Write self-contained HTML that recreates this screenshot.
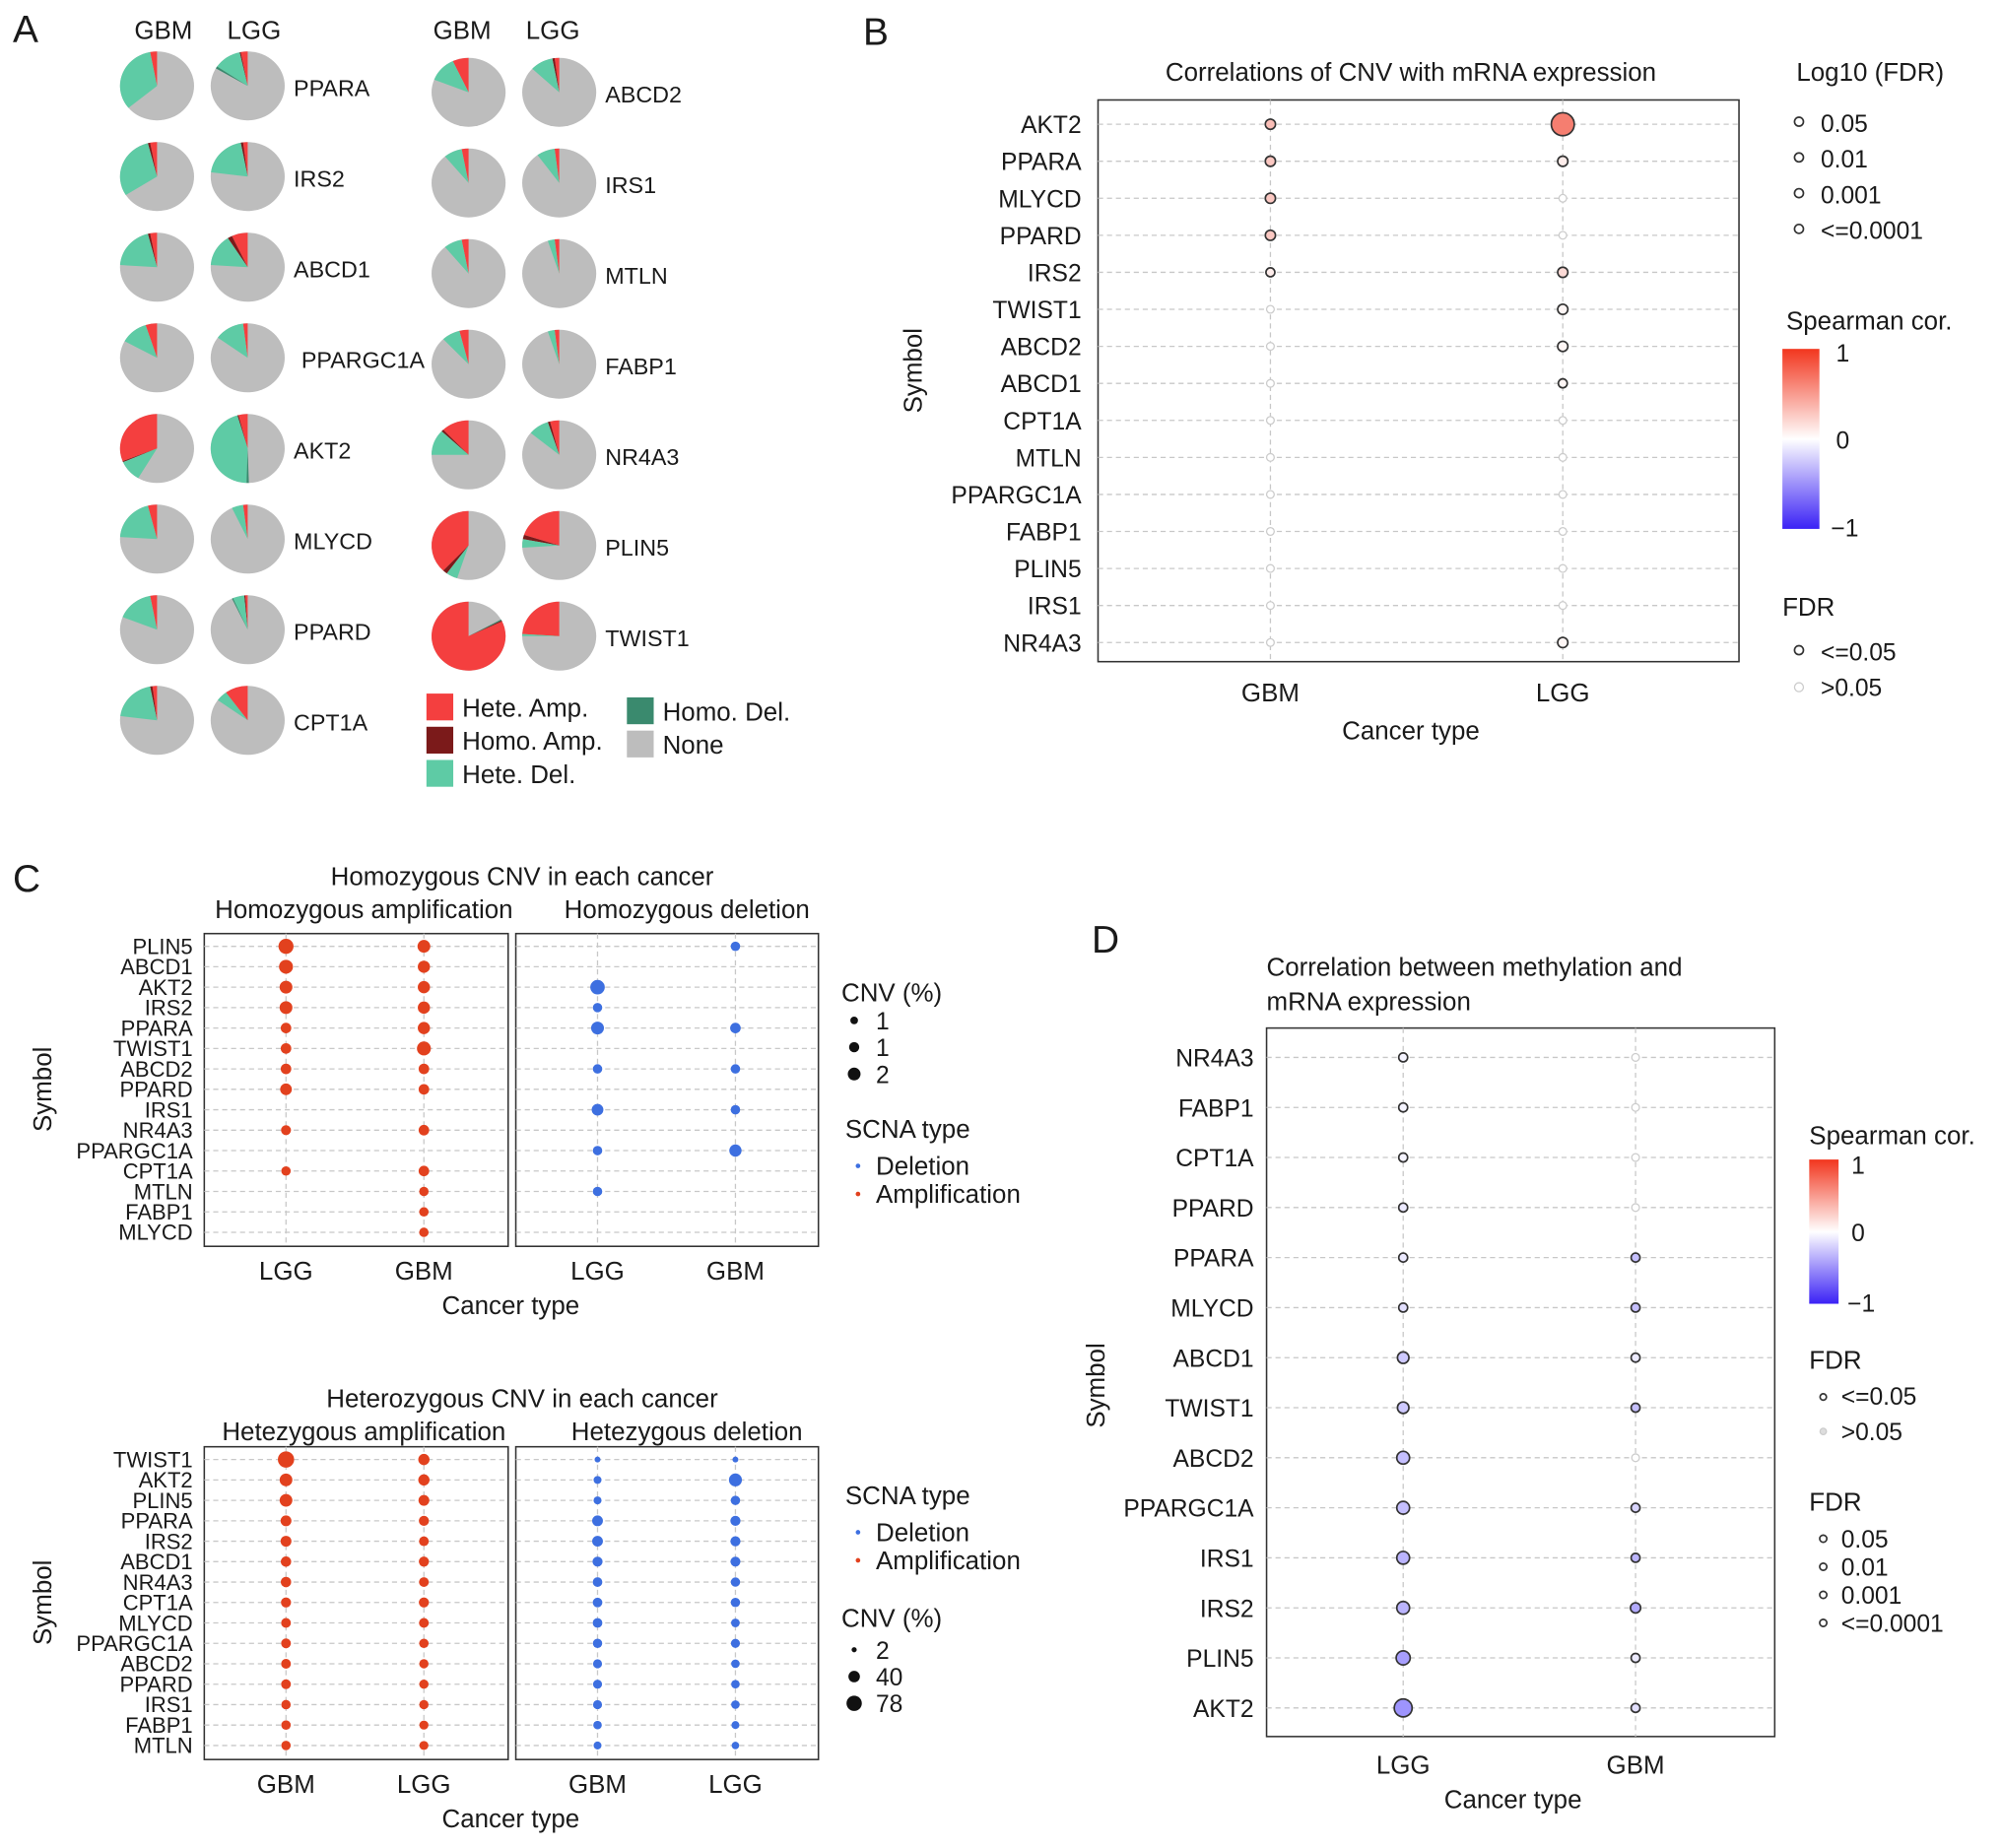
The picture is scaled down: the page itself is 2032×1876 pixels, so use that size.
<!DOCTYPE html>
<html><head><meta charset="utf-8"><style>
html,body{margin:0;padding:0;background:#fff}
svg{display:block;font-family:"Liberation Sans",Arial,sans-serif}
</style></head><body>
<svg id="fig" width="2032" height="1876" viewBox="0 0 1568 1447" xmlns="http://www.w3.org/2000/svg">
<rect width="1568" height="1447" fill="#fff"/>
<g id="root"></g>
</svg>
<script>
// ---------- Panel A data ----------
const pieGenesLeft = ["PPARA","IRS2","ABCD1","PPARGC1A","AKT2","MLYCD","PPARD","CPT1A"];
const pieGenesRight = ["ABCD2","IRS1","MTLN","FABP1","NR4A3","PLIN5","TWIST1"];
// [heteAmp, homoAmp, heteDel, homoDel]
const pieGBMLeft = [[0.03,0,0.33,0],[0.03,0.01,0.3,0],[0.03,0.01,0.2,0],[0.05,0,0.12,0],[0.31,0.005,0.1,0],[0.04,0,0.2,0],[0.03,0,0.16,0],[0.02,0.01,0.2,0]];
const pieLGGLeft = [[0.03,0.005,0.12,0.01],[0.02,0.01,0.2,0],[0.07,0.02,0.15,0],[0.02,0,0.13,0],[0.04,0.005,0.45,0.01],[0.02,0,0.05,0],[0.01,0.005,0.05,0.005],[0.1,0,0.05,0]];
const pieGBMRight = [[0.07,0,0.12,0],[0.03,0,0.08,0],[0.03,0,0.08,0],[0.04,0,0.08,0],[0.12,0.01,0.12,0],[0.38,0.02,0.05,0],[0.82,0.005,0,0.005]];
const pieLGGRight = [[0.02,0.01,0.1,0],[0.02,0,0.08,0],[0.02,0,0.03,0],[0.02,0,0.03,0],[0.04,0.01,0.09,0],[0.2,0.02,0.04,0],[0.24,0,0.01,0]];
const pieColors = ["#f43f3f","#7b1a1a","#5ecba5","#3a8a6e"];

// ---------- Panel B data ----------
const bGenes = ["AKT2","PPARA","MLYCD","PPARD","IRS2","TWIST1","ABCD2","ABCD1","CPT1A","MTLN","PPARGC1A","FABP1","PLIN5","IRS1","NR4A3"];
const bCancers = ["GBM","LGG"];
const bCorGBM = [0.35,0.3,0.3,0.3,0.1,0,0,0,0,0,0,0,0,0,0];
const bCorLGG = [0.7,0.1,0,0,0.2,0.05,0.05,0.05,0,0,0,0,0,0,0.05];
const bSigGBM = [1,1,1,1,1,0,0,0,0,0,0,0,0,0,0];
const bSigLGG = [1,1,0,0,1,1,1,1,0,0,0,0,0,0,1];
const bSizeGBM = [4,4,4,4,3.5,3,3,3,3,3,3,3,3,3,3];
const bSizeLGG = [9,4,3,3,4,4,4,3.5,3,3,3,3,3,3,4];

// ---------- Panel C data ----------
const cHomGenes = ["PLIN5","ABCD1","AKT2","IRS2","PPARA","TWIST1","ABCD2","PPARD","IRS1","NR4A3","PPARGC1A","CPT1A","MTLN","FABP1","MLYCD"];
const cHomAmpLGG = [2,1.8,1.6,1.6,1.2,1.2,1.2,1.4,0,1.1,0,1,0,0,0];
const cHomAmpGBM = [1.6,1.5,1.5,1.5,1.5,1.8,1.2,1.2,0,1.2,0,1.2,1,1,1];
const cHomDelLGG = [0,0,1.9,1,1.6,0,1,0,1.4,0,1,0,1,0,0];
const cHomDelGBM = [1,0,0,0,1.2,0,1,0,1,0,1.5,0,0,0,0];
const cHetGenes = ["TWIST1","AKT2","PLIN5","PPARA","IRS2","ABCD1","NR4A3","CPT1A","MLYCD","PPARGC1A","ABCD2","PPARD","IRS1","FABP1","MTLN"];
const cHetAmpGBM = [78,40,40,25,25,22,22,20,18,18,18,18,16,16,16];
const cHetAmpLGG = [28,28,25,20,18,20,18,20,18,16,15,15,15,14,14];
const cHetDelGBM = [4,12,12,30,30,25,22,22,22,20,18,18,18,15,12];
const cHetDelLGG = [4,50,20,25,25,24,20,20,16,18,15,15,15,12,10];

// ---------- Panel D data ----------
const dGenes = ["NR4A3","FABP1","CPT1A","PPARD","PPARA","MLYCD","ABCD1","TWIST1","ABCD2","PPARGC1A","IRS1","IRS2","PLIN5","AKT2"];
const dCorLGG = [-0.05,-0.05,-0.05,-0.1,-0.1,-0.15,-0.25,-0.25,-0.3,-0.3,-0.35,-0.35,-0.45,-0.5];
const dCorGBM = [0,0,0,0,-0.3,-0.3,-0.1,-0.3,0,-0.2,-0.35,-0.4,-0.1,-0.15];
const dSigLGG = [1,1,1,1,1,1,1,1,1,1,1,1,1,1];
const dSigGBM = [0,0,0,0,1,1,1,1,0,1,1,1,1,1];
const dSizeLGG = [3.5,3.5,3.5,3.5,3.5,3.5,4.5,4.5,5,5,5,5,5.5,7];
const dSizeGBM = [3,3,3,3,3.5,3.5,3.5,3.5,3,3.5,3.5,4,3.5,3.5];

// ---------- helpers ----------
const NS="http://www.w3.org/2000/svg";
const root=document.getElementById('root');
function el(tag,attrs,parent,text){const e=document.createElementNS(NS,tag);for(const k in attrs)e.setAttribute(k,attrs[k]);if(text!==undefined)e.textContent=text;(parent||root).appendChild(e);return e;}
function txt(x,y,s,size,anchor,name,extra){const t=el('text',Object.assign({x:x,y:y,'font-size':size,'text-anchor':anchor||'start',fill:'#1a1a1a'},extra||{}),root,s);


return t;}
function lerp(a,b,t){return Math.round(a+(b-a)*t);}
function corColor(v){
 if(v>=0){return `rgb(${lerp(255,240,v)},${lerp(255,70,v)},${lerp(255,50,v)})`;}
 const t=-v;return `rgb(${lerp(255,60,t)},${lerp(255,40,t)},${lerp(255,250,t)})`;}

// ---------- Panel A ----------
txt(10,33,"A",30,'start','panel-label-a');
[[128,"GBM"],[199,"LGG"],[362,"GBM"],[433,"LGG"]].forEach(p=>txt(p[0],30,p[1],20,'middle','pie-column-header'));
function pie(cx,cy,r,fr,name){
 const g=el('g',{});
 
 
 const rx=r+2;
 el('ellipse',{cx:cx,cy:cy,rx:rx,ry:r,fill:'#bdbdbd'},g);
 let a=0;
 fr.forEach((f,i)=>{ if(f<=0)return;
  const a0=a,a1=a+f*2*Math.PI;a=a1;
  const p=(ang)=>[cx-rx*Math.sin(ang),cy-r*Math.cos(ang)];
  const s=p(a0),e=p(a1),large=(a1-a0)>Math.PI?1:0;
  const path=el('path',{d:`M${cx},${cy}L${s[0]},${s[1]}A${rx},${r} 0 ${large} 0 ${e[0]},${e[1]}Z`,fill:pieColors[i]},g);
  
  
 });
}
pieGenesLeft.forEach((gname,i)=>{const y=67+i*71;
 pie(123,y,27,pieGBMLeft[i],'pie-gbm-'+gname.toLowerCase());
 pie(194,y,27,pieLGGLeft[i],'pie-lgg-'+gname.toLowerCase());
 txt(gname==="PPARGC1A"?236:230,y+8,gname,18,'start','pie-gene-label');});
pieGenesRight.forEach((gname,i)=>{const y=72+i*71;
 pie(367,y,27,pieGBMRight[i],'pie-gbm-'+gname.toLowerCase());
 pie(438,y,27,pieLGGRight[i],'pie-lgg-'+gname.toLowerCase());
 txt(474,y+8,gname,18,'start','pie-gene-label');});
[["Hete. Amp.",pieColors[0],334,543],["Homo. Amp.",pieColors[1],334,569],["Hete. Del.",pieColors[2],334,595],["Homo. Del.",pieColors[3],491,546],["None","#bdbdbd",491,572]].forEach(l=>{
 const r=el('rect',{x:l[2],y:l[3],width:21,height:21,fill:l[1]});
 
 
 txt(l[2]+28,l[3]+18,l[0],20,'start','legend-entry');});

// ---------- generic dot plot ----------
function dotPanel(x0,y0,w,h,xs,ys){
 const g=el('g',{});
 const r=el('rect',{x:x0,y:y0,width:w,height:h,fill:'#fff',stroke:'#333','stroke-width':1.2},g);
 
 
 ys.forEach(y=>el('line',{x1:x0,x2:x0+w,y1:y,y2:y,stroke:'#c8c8c8','stroke-dasharray':'4,3'},g));
 xs.forEach(x=>el('line',{x1:x,x2:x,y1:y0,y2:y0+h,stroke:'#c8c8c8','stroke-dasharray':'4,3'},g));
}

// ---------- Panel B ----------
txt(676,35,"B",30,'start','panel-label-b');
const bx0=860,by0=78,bw=502,bh=440;
const bX=i=>995+i*229, bY=i=>97+i*29;
dotPanel(bx0,by0,bw,bh,bCancers.map((c,i)=>bX(i)),bGenes.map((g,i)=>bY(i)));
txt(1105,63,"Correlations of CNV with mRNA expression",20,'middle','chart-title-b');
bGenes.forEach((g,i)=>txt(847,bY(i)+7,g,19,'end','y-tick-label'));
bCancers.forEach((c,i)=>txt(bX(i),549,c,20,'middle','x-tick-label'));
txt(1105,579,"Cancer type",20,'middle','x-axis-title');
txt(722,290,"Symbol",20,'middle','y-axis-title',{transform:'rotate(-90 722 290)'});
function bubble(x,y,r,fill,sig,name){const c=el('circle',{cx:x,cy:y,r:r,fill:fill,stroke:sig?'#333':'#ccc','stroke-width':sig?1.3:1});
 
 }
bGenes.forEach((g,i)=>{
 bubble(bX(0),bY(i),bSizeGBM[i],corColor(bCorGBM[i]),bSigGBM[i],'point-gbm-'+g.toLowerCase());
 bubble(bX(1),bY(i),bSizeLGG[i],corColor(bCorLGG[i]),bSigLGG[i],'point-lgg-'+g.toLowerCase());});
txt(1407,63,"Log10 (FDR)",20,'start','legend-title');
["0.05","0.01","0.001","<=0.0001"].forEach((s,i)=>{bubble(1409,95+i*28,3.5,'#fff',1,'legend-size-key');txt(1426,103+i*28,s,19,'start','legend-entry');});
txt(1399,258,"Spearman cor.",20,'start','legend-title');
const defs=el('defs',{});
const lg=el('linearGradient',{id:'cg',x1:0,y1:1,x2:0,y2:0},defs);
el('stop',{offset:0,'stop-color':'#3b22f5'},lg);el('stop',{offset:0.5,'stop-color':'#fff'},lg);el('stop',{offset:1,'stop-color':'#f2361e'},lg);
const cb=el('rect',{x:1396,y:273,width:29,height:141,fill:'url(#cg)'});


txt(1438,283,"1",19,'start','colorbar-tick');txt(1438,351,"0",19,'start','colorbar-tick');txt(1434,420,"\u22121",19,'start','colorbar-tick');
txt(1396,482,"FDR",20,'start','legend-title');
bubble(1409,509,3.5,'#fff',1,'legend-fdr-key');txt(1426,517,"<=0.05",19,'start','legend-entry');
bubble(1409,538,3.5,'#fff',0,'legend-fdr-key');txt(1426,545,">0.05",19,'start','legend-entry');

// ---------- Panel C ----------
txt(10,698,"C",30,'start','panel-label-c');
function cPanels(y0,title,strip1,strip2,genes,cols,vals,scales,colors,titleY){
 txt(409,titleY,title,20,'middle','chart-title-c');
 txt(285,titleY+26,strip1,20,'middle','strip-label');
 txt(538,titleY+26,strip2,20,'middle','strip-label');
 const yr=i=>y0+10+i*16;
 [[160,238,224,332],[404,237,468,576]].forEach((p,k)=>{
  dotPanel(p[0],y0,p[1],245,[p[2],p[3]],genes.map((g,i)=>yr(i)));
  txt(p[2],y0+271,cols[k*2],20,'middle','x-tick-label');
  txt(p[3],y0+271,cols[k*2+1],20,'middle','x-tick-label');
  [0,1].forEach(j=>{const arr=vals[k*2+j];const x=j?p[3]:p[2];
   genes.forEach((g,i)=>{if(arr[i]<=0)return;
    const c=el('circle',{cx:x,cy:yr(i),r:scales[k](arr[i]),fill:colors[k]});
    
    });});
 });
 genes.forEach((g,i)=>txt(151,yr(i)+6,g,17,'end','y-tick-label'));
 txt(400,y0+298,"Cancer type",20,'middle','x-axis-title');
 const yc=y0+122;txt(40,yc,"Symbol",20,'middle','y-axis-title',{transform:`rotate(-90 40 ${yc})`});
}
const homScale=v=>1.5+v*2.2;
cPanels(731,"Homozygous CNV in each cancer","Homozygous amplification","Homozygous deletion",cHomGenes,["LGG","GBM","LGG","GBM"],[cHomAmpLGG,cHomAmpGBM,cHomDelLGG,cHomDelGBM],[homScale,homScale],["#e2411e","#3d6fe0"],693);
cPanels(1133,"Heterozygous CNV in each cancer","Hetezygous amplification","Hetezygous deletion",cHetGenes,["GBM","LGG","GBM","LGG"],[cHetAmpGBM,cHetAmpLGG,cHetDelGBM,cHetDelLGG],[v=>1.5+Math.sqrt(v)*0.55,v=>1.2+Math.sqrt(v)*0.55],["#e2411e","#3d6fe0"],1102);
txt(659,784,"CNV (%)",20,'start','legend-title');
[[3,"1"],[4,"1"],[5,"2"]].forEach((s,i)=>{const c=el('circle',{cx:669,cy:799+i*21,r:s[0],fill:'#111'});txt(686,806+i*21,s[1],19,'start','legend-entry');});
function scna(y){txt(662,y,"SCNA type",20,'start','legend-title');
 [["Deletion","#3d6fe0"],["Amplification","#e2411e"]].forEach((s,i)=>{const c=el('circle',{cx:672,cy:y+22+i*22,r:1.8,fill:s[1]});txt(686,y+29+i*22,s[0],20,'start','legend-entry');});}
scna(891);scna(1178);
txt(659,1274,"CNV (%)",20,'start','legend-title');
[[2,"2"],[4.5,"40"],[6,"78"]].forEach((s,i)=>{const c=el('circle',{cx:669,cy:1292+i*21,r:s[0],fill:'#111'});txt(686,1299+i*21,s[1],19,'start','legend-entry');});

// ---------- Panel D ----------
txt(855,746,"D",30,'start','panel-label-d');
txt(992,764,"Correlation between methylation and",20,'start','chart-title-d');
txt(992,791,"mRNA expression",20,'start','chart-title-d');
const dX=i=>1099+i*182, dY=i=>828+i*39.2;
dotPanel(992,805,398,555,[dX(0),dX(1)],dGenes.map((g,i)=>dY(i)));
dGenes.forEach((g,i)=>{txt(982,dY(i)+7,g,19,'end','y-tick-label');
 bubble(dX(0),dY(i),dSizeLGG[i],corColor(dCorLGG[i]),dSigLGG[i],'point-lgg-'+g.toLowerCase());
 bubble(dX(1),dY(i),dSizeGBM[i],corColor(dCorGBM[i]),dSigGBM[i],'point-gbm-'+g.toLowerCase());});
txt(dX(0),1389,"LGG",20,'middle','x-tick-label');txt(dX(1),1389,"GBM",20,'middle','x-tick-label');
txt(1185,1416,"Cancer type",20,'middle','x-axis-title');
txt(865,1085,"Symbol",20,'middle','y-axis-title',{transform:'rotate(-90 865 1085)'});
txt(1417,896,"Spearman cor.",20,'start','legend-title');
const cb2=el('rect',{x:1417,y:908,width:23,height:113,fill:'url(#cg)'});


txt(1450,919,"1",19,'start','colorbar-tick');txt(1450,972,"0",19,'start','colorbar-tick');txt(1447,1027,"\u22121",19,'start','colorbar-tick');
txt(1417,1072,"FDR",20,'start','legend-title');
bubble(1428,1094,2.5,'#fff',1,'legend-fdr-key');txt(1442,1100,"<=0.05",19,'start','legend-entry');
bubble(1428,1121,2.5,'#ddd',0,'legend-fdr-key');txt(1442,1128,">0.05",19,'start','legend-entry');
txt(1417,1183,"FDR",20,'start','legend-title');
["0.05","0.01","0.001","<=0.0001"].forEach((s,i)=>{bubble(1428,1205+i*22,2.8,'#fff',1,'legend-size-key');txt(1442,1212+i*22,s,19,'start','legend-entry');});
</script>
</body></html>
